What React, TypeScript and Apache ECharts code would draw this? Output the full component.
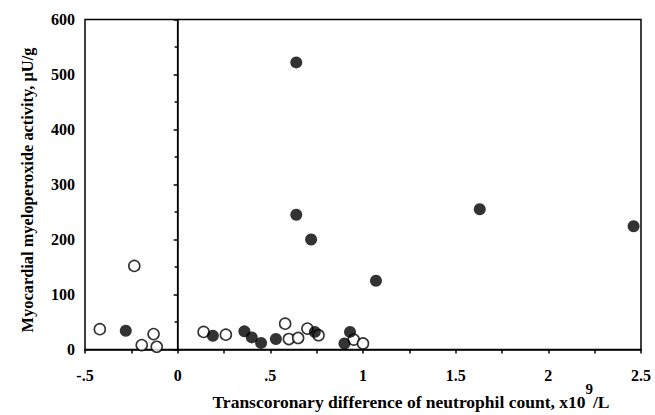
import React, { useEffect, useRef } from "react";
import * as echarts from "echarts";

const xTicks = [-0.5, 0, 0.5, 1, 1.5, 2, 2.5];
const yTicks = [0, 100, 200, 300, 400, 500, 600];

// filled circles
const filledX = [-0.28, 0.19, 0.36, 0.40, 0.45, 0.53, 0.64, 0.64, 0.72, 0.74, 0.90, 0.93, 1.07, 1.63, 2.46];
const filledY = [34, 25, 33, 22, 12, 19, 522, 245, 200, 32, 11, 32, 125, 255, 224];

// open circles
const openX = [-0.42, -0.234, -0.194, -0.13, -0.113, 0.14, 0.26, 0.58, 0.60, 0.65, 0.70, 0.76, 0.95, 1.0];
const openY = [37, 152, 8, 28, 5, 32, 27, 47, 19, 21, 38, 26, 18, 11];

const font = "'Liberation Serif', 'DejaVu Serif', serif";

export default function App() {
  const ref = useRef<HTMLDivElement>(null);
  useEffect(() => {
    if (!ref.current) return;
    const chart = echarts.init(ref.current, null, { renderer: "svg" });
    const filled = filledX.map((x, i) => [x, filledY[i]]);
    const open = openX.map((x, i) => [x, openY[i]]);
    const fmtX = (v: number) => {
      if (v === 0) return "0";
      const s = String(v);
      return s.replace(/^0\./, ".").replace(/^-0\./, "-.");
    };
    chart.setOption({
      animation: false,
      backgroundColor: "#fff",
      grid: {
        left: 85,
        right: 14,
        top: 19.5,
        bottom: 65.5,
        outerBoundsMode: "none",
        containLabel: false,
        show: true,
        borderColor: "#000",
        borderWidth: 1.5,
        backgroundColor: "transparent",
      },
      xAxis: {
        type: "value",
        min: xTicks[0],
        max: xTicks[xTicks.length - 1],
        interval: 0.5,
        name: "{a|Transcoronary difference of neutrophil count, x10}{sup|9}{a|/L}",
        nameLocation: "middle",
        nameGap: 31,
        nameMoveOverlap: false,
        nameTextStyle: {
          padding: [0, 0, 0, 96],
          rich: {
            a: { fontFamily: font, fontWeight: "bold", fontSize: 17.5, color: "#000", verticalAlign: "bottom", lineHeight: 30 },
            sup: { fontFamily: font, fontWeight: "bold", fontSize: 15, color: "#000", verticalAlign: "bottom", lineHeight: 30, padding: [0, 0, 14, 0] },
          },
        },
        axisLine: { lineStyle: { color: "#000", width: 1.5 } },
        axisTick: { show: true, inside: false, length: 4, lineStyle: { color: "#000", width: 1.5 } },
        minorTick: { show: true, splitNumber: 2, length: 4, lineStyle: { color: "#000", width: 1.5 } },
        splitLine: { show: false },
        axisLabel: {
          formatter: fmtX,
          fontFamily: font,
          fontWeight: "bold",
          fontSize: 16,
          color: "#000",
          margin: 18,
        },
      },
      yAxis: {
        type: "value",
        min: yTicks[0],
        max: yTicks[yTicks.length - 1],
        interval: 100,
        name: "Myocardial myeloperoxide activity, \u03bcU/g",
        nameLocation: "middle",
        nameGap: 50,
        nameMoveOverlap: false,
        nameTextStyle: { fontFamily: font, fontWeight: "bold", fontSize: 16.4, color: "#000", padding: [0, 11, 0, 0] },
        axisLine: { lineStyle: { color: "#000", width: 1.5 } },
        axisTick: { show: true, inside: false, length: 4, lineStyle: { color: "#000", width: 1.5 } },
        minorTick: { show: true, splitNumber: 2, length: 3, lineStyle: { color: "#000", width: 1.5 } },
        splitLine: { show: false },
        axisLabel: {
          fontFamily: font,
          fontWeight: "bold",
          fontSize: 16,
          color: "#000",
          margin: 10,
        },
      },
      series: [
        {
          type: "scatter",
          data: open,
          symbol: "circle",
          symbolSize: 11,
          itemStyle: { color: "#fff", borderColor: "#000", borderWidth: 1.6 },
          markLine: {
            silent: true,
            symbol: ["none", "none"],
            label: { show: false },
            lineStyle: { color: "#000", width: 1.2, type: "solid" },
            data: [{ xAxis: 0 }],
          },
          z: 3,
        },
        {
          type: "scatter",
          data: filled,
          symbol: "circle",
          symbolSize: 12,
          itemStyle: { color: "#000", borderColor: "#000", borderWidth: 0 },
          z: 4,
        },
      ],
    });
    return () => chart.dispose();
  }, []);
  return <div ref={ref} style={{ position: "absolute", left: 0, top: 0, width: 655, height: 415 }} />;
}
